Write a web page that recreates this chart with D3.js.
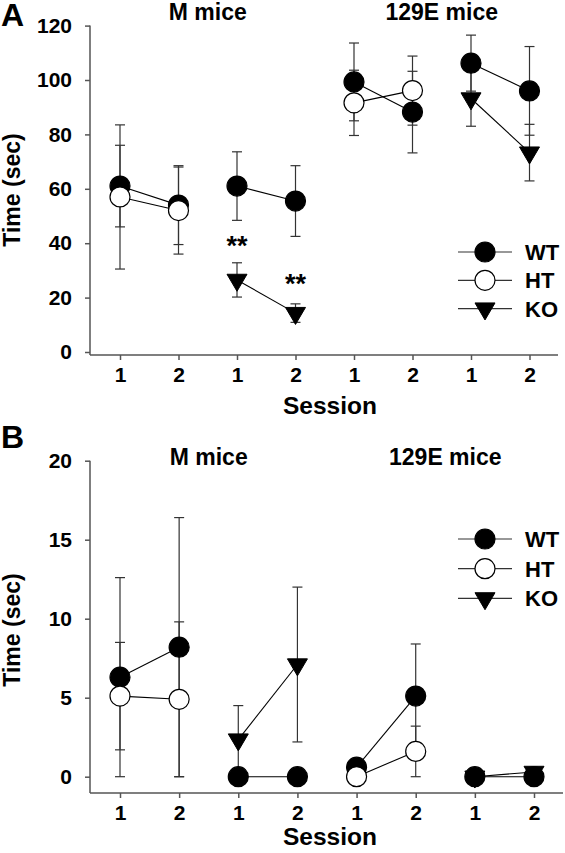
<!DOCTYPE html>
<html><head><meta charset="utf-8">
<script src="https://cdn.jsdelivr.net/npm/d3@7/dist/d3.min.js"></script>
<style>
html,body{margin:0;padding:0;background:#fff;}
text{font-family:"Liberation Sans",Arial,sans-serif;font-weight:bold;fill:#000;}
</style></head>
<body>
<svg id="chart" width="565" height="853"></svg>
<script>
// ---------- data ----------
const sessions = ["1","2","1","2","1","2","1","2"];
const groups = ["M mice","129E mice"];
const genotypes = ["WT","HT","KO"];
const yTicksA = [0,20,40,60,80,100,120];
const yTicksB = [0,5,10,15,20];

// Panel A (Time, sec)
const wtA    = [61, 54, 61, 55.5, 99.3, 88.2, 106.2, 96];
const wtErrA = [15, 14.5, 12.6, 13, 14.3, 15, 10.3, 16.3];
const htA    = [57, 52, null, null, 91.6, 96.1, null, null];
const htErrA = [26.5, 16, null, null, 12, 12.7, null, null];
const koA    = [null, null, 26.5, 14.3, null, null, 93.2, 73.3];
const koErrA = [null, null, 6.3, 3.4, null, null, 10.2, 10.4];
const starsA = [{i:2, v:41, label:"**"}, {i:3, v:27.3, label:"**"}];

// Panel B (Time, sec)
const wtB    = [6.3, 8.2, 0, 0, 0.6, 5.1, 0, 0];
const wtErrB = [6.3, 8.2, 0, 0, 0, 3.3, 0, 0];
const htB    = [5.1, 4.9, null, null, 0, 1.6, null, null];
const htErrB = [3.4, 4.9, null, null, 0, 1.6, null, null];
const koB    = [null, null, 2.35, 7.1, null, null, 0, 0.3];
const koErrB = [null, null, 2.15, 4.9, null, null, 0, 0];

// ---------- drawing ----------
const svg = d3.select("#chart");
const AXIS = "#555";
const BAR = "#333";

function triPath(){ const w=10, h=17; return `M${-w},${-h/3}L${w},${-h/3}L0,${2*h/3}Z`; }

function drawMarker(g, type, x, y){
  if(type==="KO"){
    g.append("path").attr("d",triPath()).attr("transform",`translate(${x},${y})`)
      .attr("fill","#000").attr("stroke","#000").attr("stroke-width",1);
  } else {
    g.append("circle").attr("cx",x).attr("cy",y).attr("r",10)
      .attr("fill", type==="WT" ? "#000" : "#fff").attr("stroke","#000").attr("stroke-width",1.2);
  }
}

function drawPanel(cfg){
  const g = svg.append("g");
  const x = d3.scalePoint().domain(d3.range(sessions.length)).range(cfg.xRange);
  const y = d3.scaleLinear().domain([0, cfg.yMax]).range(cfg.yRange);

  // axis lines
  g.append("line").attr("x1",cfg.axisX).attr("x2",cfg.axisX).attr("y1",y(cfg.yMax)).attr("y2",cfg.axisY)
    .attr("stroke",AXIS).attr("stroke-width",1.5);
  g.append("line").attr("x1",cfg.axisX).attr("x2",cfg.axisXEnd).attr("y1",cfg.axisY).attr("y2",cfg.axisY)
    .attr("stroke",AXIS).attr("stroke-width",1.5);

  // y axis ticks
  const ya = g.append("g").attr("transform",`translate(${cfg.axisX},0)`)
    .call(d3.axisLeft(y).tickValues(cfg.yTicks).tickFormat(d3.format("d")).tickSize(5).tickSizeOuter(0).tickPadding(13));
  ya.select(".domain").remove();
  ya.selectAll("line").attr("stroke",AXIS).attr("stroke-width",1.5);
  ya.selectAll("text").style("font-size","21px").attr("fill","#000");

  // x axis ticks
  const xa = g.append("g").attr("transform",`translate(0,${cfg.axisY})`)
    .call(d3.axisBottom(x).tickFormat(i=>sessions[i]).tickSize(5).tickSizeOuter(0).tickPadding(7));
  xa.select(".domain").remove();
  xa.selectAll("line").attr("stroke",AXIS).attr("stroke-width",1.5);
  xa.selectAll("text").style("font-size","21px").attr("fill","#000");

  // group titles
  groups.forEach((gr,k)=>{
    const cx = (x(4*k) + x(4*k+3))/2;
    g.append("text").attr("x",cx).attr("y",cfg.titleY).attr("text-anchor","middle")
      .style("font-size","23px").text(gr);
  });

  // panel letter
  g.append("text").attr("x",1).attr("y",cfg.letterY).style("font-size","32px").text(cfg.letter);

  // axis titles
  g.append("text").attr("transform",`translate(19.5,${cfg.yTitleY}) rotate(-90)`)
    .attr("text-anchor","middle").style("font-size","23px").text("Time (sec)");
  g.append("text").attr("x",330).attr("y",cfg.xTitleY).attr("text-anchor","middle")
    .style("font-size","24.5px").text("Session");

  const series = {WT:[cfg.wt,cfg.wtErr], HT:[cfg.ht,cfg.htErr], KO:[cfg.ko,cfg.koErr]};

  // error bars
  genotypes.forEach(k=>{
    const [v,e] = series[k];
    v.forEach((d,i)=>{
      if(d==null || !e[i]) return;
      const xi = x(i), y1 = y(d-e[i]), y2 = y(d+e[i]);
      g.append("line").attr("x1",xi).attr("x2",xi).attr("y1",y1).attr("y2",y2).attr("stroke",BAR).attr("stroke-width",1.2);
      [y1,y2].forEach(yy=> g.append("line").attr("x1",xi-5).attr("x2",xi+5).attr("y1",yy).attr("y2",yy)
        .attr("stroke",BAR).attr("stroke-width",1.2));
    });
  });

  // connecting lines (within each session pair)
  genotypes.forEach(k=>{
    const v = series[k][0];
    for(let p=0;p<v.length/2;p++){
      const a=2*p, b=2*p+1;
      if(v[a]==null || v[b]==null) continue;
      g.append("line").attr("x1",x(a)).attr("y1",y(v[a])).attr("x2",x(b)).attr("y2",y(v[b]))
        .attr("stroke","#000").attr("stroke-width",1.1);
    }
  });

  // markers (layer order per session pair)
  for(let p=0;p<sessions.length/2;p++){
    cfg.order[p].forEach(k=>{
      const v = series[k][0];
      [2*p,2*p+1].forEach(i=>{ if(v[i]!=null) drawMarker(g,k,x(i),y(v[i])); });
    });
  }

  // significance marks
  (cfg.stars||[]).forEach(s=>{
    g.append("text").attr("x",x(s.i)).attr("y",y(s.v)+15).attr("text-anchor","middle")
      .style("font-size","27px").text(s.label);
  });

  // legend
  genotypes.forEach((k,j)=>{
    const ly = cfg.legendY + j*cfg.legendGap;
    g.append("line").attr("x1",458).attr("x2",512).attr("y1",ly).attr("y2",ly).attr("stroke",BAR).attr("stroke-width",1.2);
    drawMarker(g,k,485,ly);
    g.append("text").attr("x",525).attr("y",ly+8).style("font-size","22px").text(k);
  });
}

drawPanel({
  letter:"A", letterY:26, titleY:20, yTitleY:190, xTitleY:414,
  xRange:[120,529.5], yRange:[352,25.6], yMax:120, yTicks:yTicksA,
  axisX:90, axisY:355, axisXEnd:558,
  wt:wtA, wtErr:wtErrA, ht:htA, htErr:htErrA, ko:koA, koErr:koErrA,
  stars:starsA,
  order:[["KO","WT","HT"],["KO","WT","HT"],["KO","HT","WT"],["KO","HT","WT"]],
  legendY:252, legendGap:28.3
});

drawPanel({
  letter:"B", letterY:448, titleY:465, yTitleY:630, xTitleY:845,
  xRange:[120,534], yRange:[776.7,460.7], yMax:20, yTicks:yTicksB,
  axisX:90, axisY:793, axisXEnd:563,
  wt:wtB, wtErr:wtErrB, ht:htB, htErr:htErrB, ko:koB, koErr:koErrB,
  stars:[],
  order:[["KO","WT","HT"],["KO","WT","HT"],["KO","WT","HT"],["KO","WT","HT"]],
  legendY:539, legendGap:29.7
});
</script>
</body></html>
